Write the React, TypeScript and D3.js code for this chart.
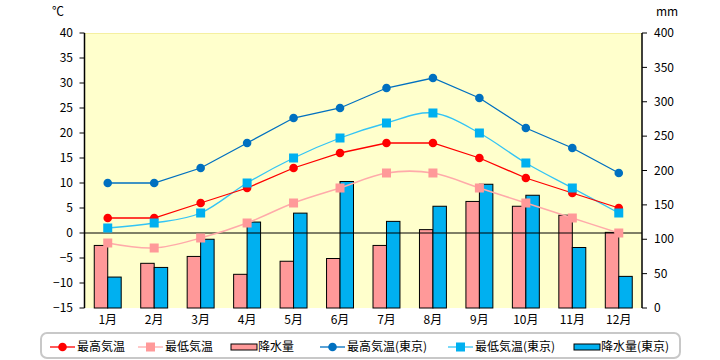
import React from "react";
import * as d3 from "d3";

const months = ["1月", "2月", "3月", "4月", "5月", "6月", "7月", "8月", "9月", "10月", "11月", "12月"];
const maxTemp = [3, 3, 6, 9, 13, 16, 18, 18, 15, 11, 8, 5];
const minTemp = [-2, -3, -1, 2, 6, 9, 12, 12, 9, 6, 3, 0];
const precip = [91, 65, 75, 49, 68, 72, 91, 114, 155, 148, 135, 110];
const maxTempTokyo = [10, 10, 13, 18, 23, 25, 29, 31, 27, 21, 17, 12];
const minTempTokyo = [1, 2, 4, 10, 15, 19, 22, 24, 20, 14, 9, 4];
const precipTokyo = [45, 59, 100, 125, 138, 184, 126, 148, 180, 164, 88, 46];
const leftTicks = [-15, -10, -5, 0, 5, 10, 15, 20, 25, 30, 35, 40];
const rightTicks = [0, 50, 100, 150, 200, 250, 300, 350, 400];

const W = 720, H = 360;
const L = 84.5, R = 642, T = 33, B = 308;
const FONT = "'Noto Sans CJK JP', 'DejaVu Sans', sans-serif";

const C_RED = "#FF0000";
const C_PINK = "#FF9999";
const C_DBLUE = "#0070C0";
const C_LBLUE = "#00B0F0";

export default function App() {
  const x = d3.scaleBand<string>().domain(months).range([L, R]);
  const yL = d3.scaleLinear().domain([-15, 40]).range([B, T]);
  const yR = d3.scaleLinear().domain([0, 400]).range([B, T]);
  const bw = x.bandwidth() * 0.29;
  const cx = (m: string) => (x(m) as number) + x.bandwidth() / 2;

  const straight = d3.line<number>().x((_, i) => cx(months[i])).y((d) => yL(d));
  const smooth = d3
    .line<number>()
    .x((_, i) => cx(months[i]))
    .y((d) => yL(d))
    .curve(d3.curveCatmullRom.alpha(0));

  const circles = (data: number[], color: string, r: number) =>
    data.map((d, i) => <circle key={i} cx={cx(months[i])} cy={yL(d)} r={r} fill={color} />);
  const squares = (data: number[], color: string, s: number) =>
    data.map((d, i) => (
      <rect key={i} x={cx(months[i]) - s / 2} y={yL(d) - s / 2} width={s} height={s} fill={color} />
    ));

  const legendY = 347;
  const legendItems = [
    { type: "line", marker: "circle", color: C_RED, lineColor: C_RED, label: "最高気温", x: 50 },
    { type: "line", marker: "square", color: C_PINK, lineColor: "#FFAAAA", label: "最低気温", x: 138 },
    { type: "bar", color: C_PINK, label: "降水量", x: 231 },
    { type: "line", marker: "circle", color: C_DBLUE, lineColor: C_DBLUE, label: "最高気温(東京)", x: 320 },
    { type: "line", marker: "square", color: C_LBLUE, lineColor: "#33C4F5", label: "最低気温(東京)", x: 448 },
    { type: "bar", color: C_LBLUE, label: "降水量(東京)", x: 574 },
  ];

  return (
    <svg width={W} height={H} style={{ position: "absolute", left: 0, top: 0, background: "#fff" }} fontFamily={FONT}>
      <rect x={L} y={T} width={R - L} height={B - T} fill="#FFFFCC" />
      <line x1={L} x2={R} y1={T + 0.5} y2={T + 0.5} stroke="#F5F0A0" />

      {/* bars */}
      {months.map((m, i) => (
        <g key={m}>
          <rect
            x={cx(m) - bw}
            y={yR(precip[i])}
            width={bw}
            height={B - yR(precip[i])}
            fill={C_PINK}
            stroke="#000"
            strokeWidth={1}
          />
          <rect
            x={cx(m)}
            y={yR(precipTokyo[i])}
            width={bw}
            height={B - yR(precipTokyo[i])}
            fill={C_LBLUE}
            stroke="#000"
            strokeWidth={1}
          />
        </g>
      ))}

      {/* zero line */}
      <line x1={L} x2={R} y1={yL(0)} y2={yL(0)} stroke="#000" strokeWidth={1} />

      {/* lines */}
      <path d={smooth(minTemp) || ""} fill="none" stroke="#FFAAAA" strokeWidth={1.5} />
      {squares(minTemp, C_PINK, 9)}
      <path d={smooth(minTempTokyo) || ""} fill="none" stroke="#33C4F5" strokeWidth={1.3} />
      <path d={straight(maxTemp) || ""} fill="none" stroke={C_RED} strokeWidth={1.3} />
      <path d={straight(maxTempTokyo) || ""} fill="none" stroke={C_DBLUE} strokeWidth={1.3} />
      {circles(maxTemp, C_RED, 4.3)}
      {squares(minTempTokyo, C_LBLUE, 9)}
      {circles(maxTempTokyo, C_DBLUE, 4.3)}

      {/* left axis */}
      <line x1={L} x2={L} y1={T} y2={B} stroke="#000" strokeWidth={1.5} />
      {leftTicks.map((t) => (
        <g key={t}>
          <line x1={L - 5} x2={L} y1={yL(t)} y2={yL(t)} stroke="#000" />
          <text x={73} y={yL(t)} dy="0.35em" textAnchor="end" fontSize={12} fill="#000">
            {t < 0 ? "−" + Math.abs(t) : t}
          </text>
        </g>
      ))}
      <text x={58} y={16} textAnchor="middle" fontSize={12} fill="#000">℃</text>

      {/* right axis */}
      <line x1={R} x2={R} y1={T} y2={B} stroke="#000" strokeWidth={1.5} />
      {rightTicks.map((t) => (
        <g key={t}>
          <line x1={R} x2={R + 5} y1={yR(t)} y2={yR(t)} stroke="#000" />
          <text x={654} y={yR(t)} dy="0.35em" textAnchor="start" fontSize={12} fill="#000">
            {t}
          </text>
        </g>
      ))}
      <text x={667} y={16} textAnchor="middle" fontSize={12} fill="#000">mm</text>

      {/* month labels */}
      {months.map((m) => (
        <text key={m} x={cx(m)} y={320} dy="0.35em" textAnchor="middle" fontSize={12} fill="#000">
          {m}
        </text>
      ))}

      {/* legend */}
      <rect x={41} y={333} width={639} height={25} rx={6} ry={6} fill="#fff" stroke="#C8C8C8" strokeWidth={2} />
      {legendItems.map((it) => (
        <g key={it.label}>
          {it.type === "line" ? (
            <>
              <line x1={it.x} x2={it.x + 25} y1={legendY} y2={legendY} stroke={it.lineColor} strokeWidth={1.3} />
              {it.marker === "circle" ? (
                <circle cx={it.x + 12.5} cy={legendY} r={4.3} fill={it.color} />
              ) : (
                <rect x={it.x + 8} y={legendY - 4.5} width={9} height={9} fill={it.color} />
              )}
            </>
          ) : (
            <rect x={it.x} y={legendY - 3} width={26} height={6} fill={it.color} stroke="#000" strokeWidth={1} />
          )}
          <text x={it.x + 27} y={legendY} dy="0.35em" fontSize={12} fill="#000">
            {it.label}
          </text>
        </g>
      ))}
    </svg>
  );
}
